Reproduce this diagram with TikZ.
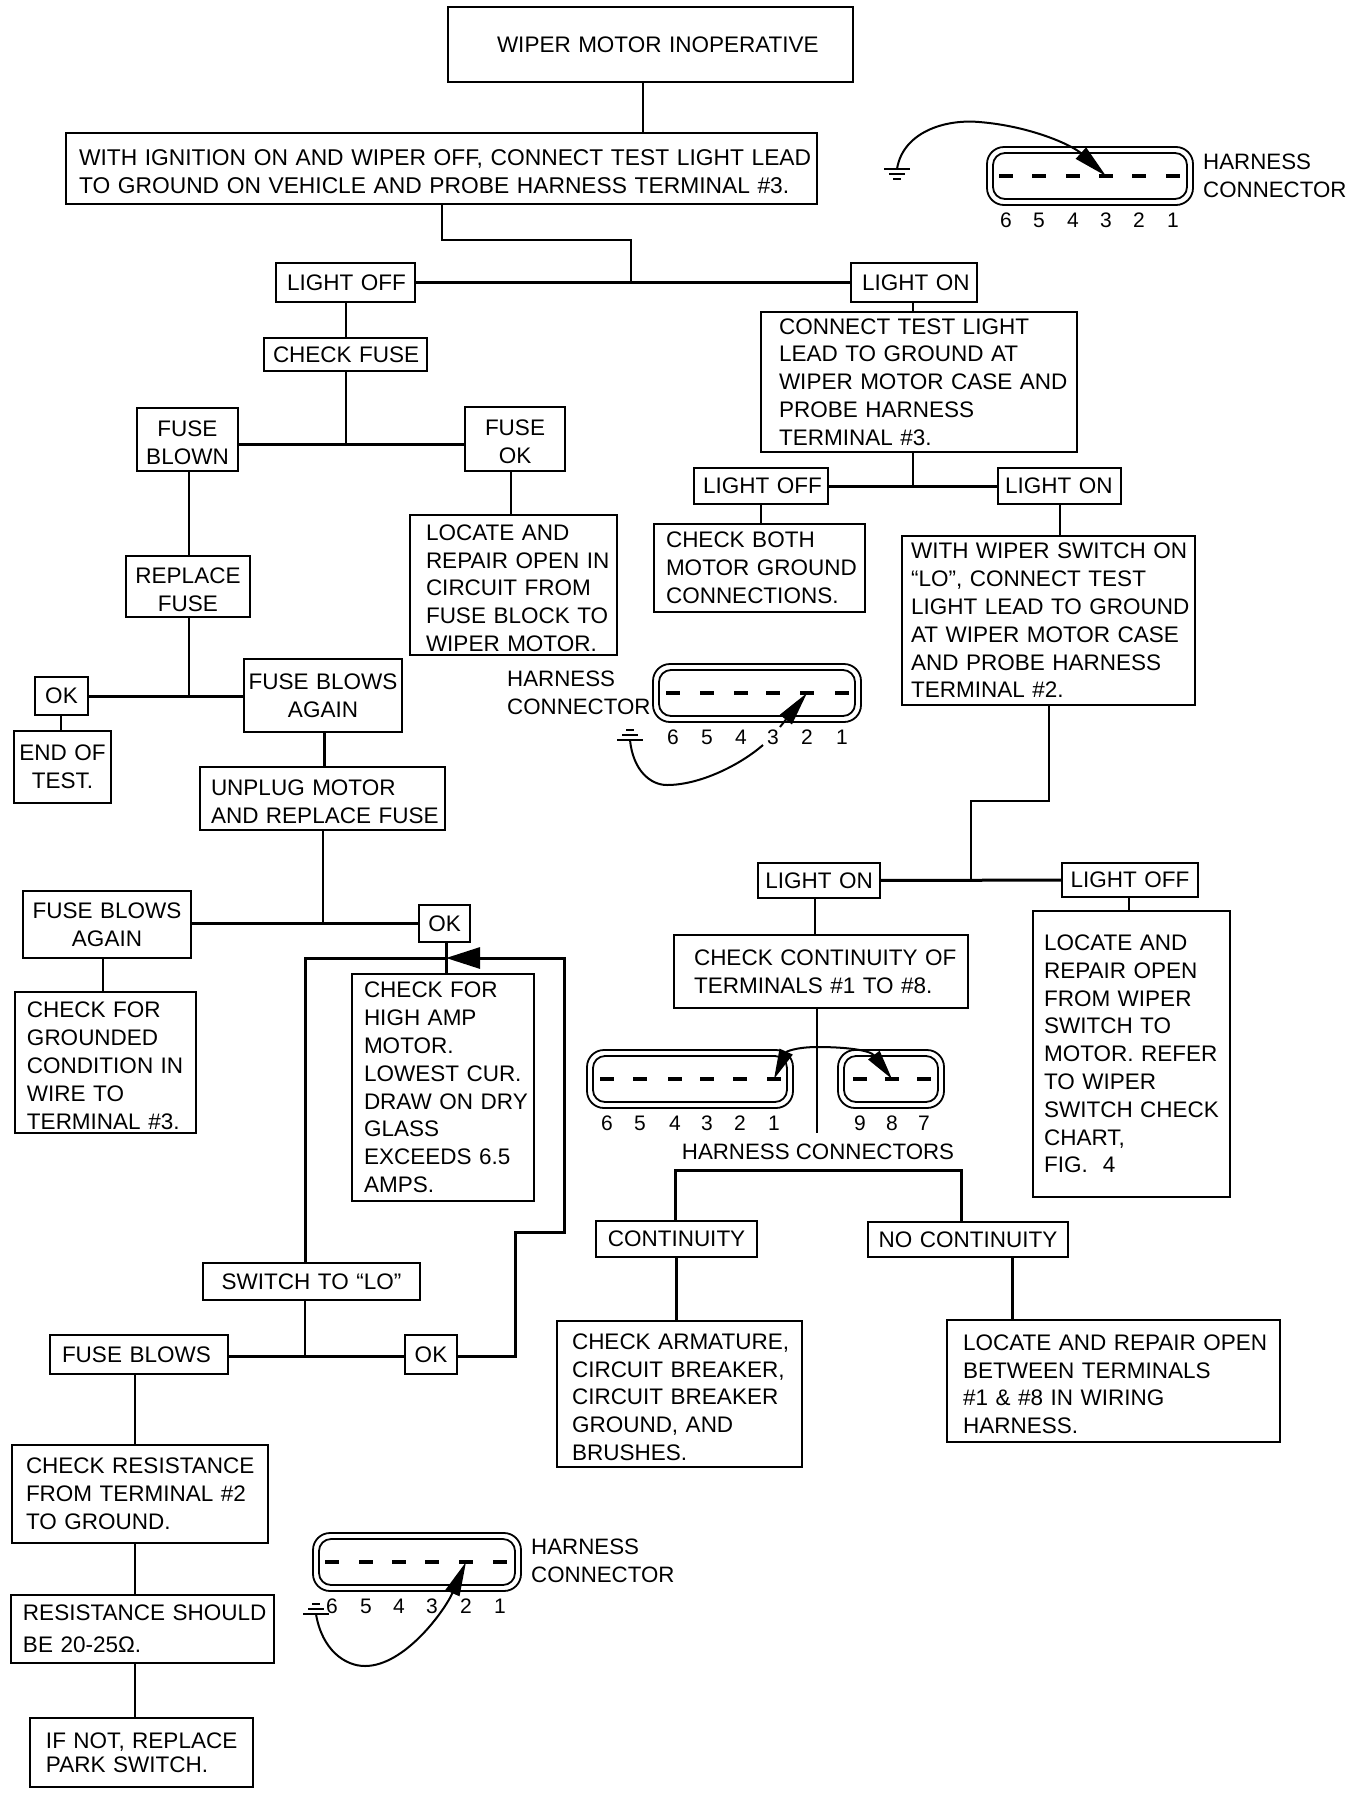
\documentclass[tikz,border=0pt]{standalone}
\usepackage{fontspec}
\setmainfont{Liberation Sans}
\usetikzlibrary{arrows.meta}
\tikzset{
    flow/.style n args={3}{draw, line width=2.2pt, inner sep=0pt, text width=#1pt, minimum height=#2pt,
        align=left, font=\fontsize{22.5}{27.8}\selectfont, execute at begin node={\leftskip=#3pt\relax}},
    flowc/.style 2 args={draw, line width=2.2pt, inner sep=0pt, text width=#1pt, minimum height=#2pt,
        align=center, font=\fontsize{22.5}{27.8}\selectfont},
    link/.style={line width=2pt},
    heavy/.style={line width=3pt},
    wire/.style={line width=2pt},
    lab/.style={align=left, inner sep=0pt, font=\fontsize{22.3}{27.5}\selectfont},
    pinbar/.style={line width=3.2pt},
    pintext/.style={inner sep=0pt, font=\fontsize{21}{21}\selectfont},
    pics/harness/.style 2 args={code={
        \draw[line width=1.8pt, rounded corners=17pt] (-#1,-29) rectangle (#1,29);
        \draw[line width=1.8pt, rounded corners=12pt] ({-#1+6},-23) rectangle ({#1-6},23);
        \foreach \dx/\num in {#2} {
            \coordinate (-\num) at (\dx,0);
            \draw[pinbar] ({\dx-7},0) -- ({\dx+7},0);
            \node[pintext] (-t\num) at (\dx,44) {\num};
        }
    }},
    pics/earth/.style={code={
        \coordinate (-o) at (0,0);
        \draw[line width=2.6pt] (-13,0) -- (13,0);
        \draw[line width=2.6pt] (-8,5) -- (8,5);
        \draw[line width=2.6pt] (-4,10) -- (4,10);
    }},
}
\newcommand{\drop}{\rule{0pt}{22pt}}
\begin{document}
\begin{tikzpicture}[x=1pt, y=-1pt]
    \useasboundingbox (0,0) rectangle (1360,1794);

    \node[flow={405}{75}{49}] (top) at (650.5,44.5) {WIPER MOTOR INOPERATIVE};
    \node[flow={751}{71}{13}, font=\fontsize{22.8}{27.8}\selectfont] (probe) at (441.5,168.5) {\drop WITH IGNITION ON AND WIPER OFF, CONNECT TEST LIGHT LEAD\\TO GROUND ON VEHICLE AND PROBE HARNESS TERMINAL \#3.};
    \node[flow={139}{39}{11}] (loffa) at (345.5,282.5) {LIGHT OFF};
    \node[flow={126}{39}{11}] (lona) at (914,282.5) {LIGHT ON};
    \node[flow={316}{140}{18}] (motorcase) at (919,382) {CONNECT TEST LIGHT\\LEAD TO GROUND AT\\WIPER MOTOR CASE AND\\PROBE HARNESS\\TERMINAL \#3.};
    \node[flow={163}{33}{9}] (cfuse) at (345.5,354.5) {CHECK FUSE};
    \node[flowc={101}{63}] (fblown) at (187.5,439.5) {\drop FUSE\\BLOWN};
    \node[flowc={100}{64}] (fok) at (515,439) {\drop FUSE\\OK};
    \node[flow={134}{36}{9}] (loffb) at (761,486) {LIGHT OFF};
    \node[flow={123}{36}{7}] (lonb) at (1059.5,486) {LIGHT ON};
    \node[flow={207}{140}{16}] (fuseblock) at (513.5,585) {\drop LOCATE AND\\REPAIR OPEN IN\\CIRCUIT FROM\\FUSE BLOCK TO\\WIPER MOTOR.};
    \node[flow={211}{88}{12}] (both) at (759.5,568) {CHECK BOTH\\MOTOR GROUND\\CONNECTIONS.};
    \node[flow={293}{169}{9}] (wiper) at (1048.5,620.5) {WITH WIPER SWITCH ON\\“LO”, CONNECT TEST\\LIGHT LEAD TO GROUND\\AT WIPER MOTOR CASE\\AND PROBE HARNESS\\TERMINAL \#2.};
    \node[flowc={124}{61}] (replace) at (188,586.5) {\drop REPLACE\\FUSE};
    \node[flowc={158}{73}] (againa) at (323,695.5) {FUSE BLOWS\\AGAIN};
    \node[flowc={53}{38}] (oka) at (61.5,696) {OK};
    \node[flowc={97}{72}] (endtest) at (62.5,767) {END OF\\TEST.};
    \node[flow={245}{63}{11}] (unplug) at (322.5,798.5) {\drop UNPLUG MOTOR\\AND REPLACE FUSE};
    \node[flowc={168}{67}] (againb) at (107,924.5) {FUSE BLOWS\\AGAIN};
    \node[flowc={51}{37}] (okb) at (444.5,923.5) {OK};
    \node[flow={181}{141}{12}] (grounded) at (105.5,1062.5) {\drop CHECK FOR\\GROUNDED\\CONDITION IN\\WIRE TO\\TERMINAL \#3.};
    \node[flow={182}{227}{12}] (highamp) at (443,1087.5) {CHECK FOR\\HIGH AMP\\MOTOR.\\LOWEST CUR.\\DRAW ON DRY\\GLASS\\EXCEEDS 6.5\\AMPS.};
    \node[flowc={217}{37}] (tolo) at (311.5,1281.5) {SWITCH TO “LO”};
    \node[flowc={52}{39}] (okc) at (431,1354.5) {OK};
    \node[flow={178}{39}{12}] (fblows) at (139,1354.5) {FUSE BLOWS};
    \node[flow={256}{98}{14}] (cres) at (140,1494) {CHECK RESISTANCE\\FROM TERMINAL \#2\\TO GROUND.};
    \node[flow={263}{68}{12}] (rshould) at (142.5,1629) {RESISTANCE SHOULD\\[4pt]BE 20-25Ω.};
    \node[flow={223}{69}{16}] (ifnot) at (141.5,1752.5) {IF NOT, REPLACE\\[-4pt]PARK SWITCH.};
    \node[flowc={122}{35}] (lonc) at (819,880.5) {LIGHT ON};
    \node[flowc={136}{34}] (loffc) at (1130,880) {LIGHT OFF};
    \node[flow={294}{73}{20}] (ccont) at (821,971.5) {CHECK CONTINUITY OF\\TERMINALS \#1 TO \#8.};
    \node[flow={197}{286}{11}] (chart) at (1131.5,1054) {LOCATE AND\\REPAIR OPEN\\FROM WIPER\\SWITCH TO\\MOTOR. REFER\\TO WIPER\\SWITCH CHECK\\CHART,\\FIG.\ \ 4};
    \node[flowc={161}{36}] (cont) at (676.5,1239) {CONTINUITY};
    \node[flowc={200}{35}] (nocont) at (968,1239.5) {NO CONTINUITY};
    \node[flow={245}{146}{15}] (armature) at (679.5,1394) {\drop CHECK ARMATURE,\\CIRCUIT BREAKER,\\CIRCUIT BREAKER\\GROUND, AND\\BRUSHES.};
    \node[flow={333}{122}{16}] (wiring) at (1113.5,1381) {\drop LOCATE AND REPAIR OPEN\\BETWEEN TERMINALS\\\#1 \& \#8 IN WIRING\\HARNESS.};

    \coordinate (ja) at (631,282);
    \coordinate (jaup) at (442,240);
    \coordinate (jb) at (346,444);
    \coordinate (jc) at (913,486);
    \coordinate (jd) at (189,696);
    \coordinate (je) at (323,923);
    \coordinate (jf) at (305,1356.5);
    \coordinate (jg) at (971,880);
    \coordinate (jgup) at (1049,801);
    \coordinate (jloop) at (446,958);
    \coordinate (loopl) at (305,958);
    \coordinate (loopa) at (515,1232);
    \coordinate (loopb) at (564,1232);
    \coordinate (loopc) at (564,958);
    \coordinate (hcend) at (817,1133);
    \coordinate (brl) at (675,1170);
    \coordinate (brr) at (961,1170);

    \draw[link] (top.south -| 643,0) -- (probe.north -| 643,0);
    \draw[link] (probe.south -| jaup) -- (jaup) -| (ja);
    \draw[heavy] (loffa) -- (lona);
    \draw[link] (loffa.south -| 346,0) -- (cfuse.north -| 346,0);
    \draw[link] (lona.south -| 913,0) -- (motorcase.north -| 913,0);
    \draw[link] (cfuse.south -| jb) -- (jb);
    \draw[heavy] (fblown.east |- jb) -- (fok.west |- jb);
    \draw[link] (motorcase.south -| jc) -- (jc);
    \draw[heavy] (loffb) -- (lonb);
    \draw[link] (fblown.south -| jd) -- (replace.north -| jd);
    \draw[link] (replace.south -| jd) -- (jd);
    \draw[heavy] (oka.east |- jd) -- (againa.west |- jd);
    \draw[link] (fok.south -| 511,0) -- (fuseblock.north -| 511,0);
    \draw[link] (loffb.south -| 761,0) -- (both.north -| 761,0);
    \draw[link] (lonb.south -| 1060,0) -- (wiper.north -| 1060,0);
    \draw[link] (oka.south -| 61,0) -- (endtest.north -| 61,0);
    \draw[heavy] (againa.south -| 324,0) -- (unplug.north -| 324,0);
    \draw[link] (unplug.south -| je) -- (je);
    \draw[heavy] (againb.east |- je) -- (okb.west |- je);
    \draw[link] (againb.south -| 103,0) -- (grounded.north -| 103,0);
    \draw[heavy] (okb.south -| jloop) -- (highamp.north -| jloop);
    \draw[heavy] (tolo.north -| loopl) -- (loopl) -- (jloop);
    \draw[heavy, -{Triangle[length=34pt, width=21pt]}] (okc.east |- jf) -- (loopa |- jf) -- (loopa) -- (loopb) -- (loopc) -- (jloop);
    \draw[link] (tolo.south -| jf) -- (jf);
    \draw[heavy] (fblows.east |- jf) -- (okc.west |- jf);
    \draw[link] (fblows.south -| 135,0) -- (cres.north -| 135,0);
    \draw[link] (cres.south -| 135,0) -- (rshould.north -| 135,0);
    \draw[link] (rshould.south -| 135,0) -- (ifnot.north -| 135,0);
    \draw[link] (wiper.south -| jgup) -- (jgup) -| (jg);
    \draw[heavy] (lonc) -- (loffc);
    \draw[link] (lonc.south -| 815,0) -- (ccont.north -| 815,0);
    \draw[link] (loffc.south -| 1129,0) -- (chart.north -| 1129,0);
    \draw[link] (ccont.south -| hcend) -- (hcend);
    \draw[heavy] (cont.north -| brl) -- (brl) -- (brr) -- (nocont.north -| brr);
    \draw[heavy] (cont.south -| 676,0) -- (armature.north -| 676,0);
    \draw[heavy] (nocont.south -| 1012,0) -- (wiring.north -| 1012,0);

    \pic (hza) at (1090,176) {harness={103}{-84/6,-51/5,-17/4,16/3,49/2,83/1}};
    \pic (hzb) at (757,693) {harness={104}{-84/6,-50/5,-16/4,16/3,50/2,85/1}};
    \pic (hzc) at (690,1079) {harness={103}{-83/6,-50/5,-15/4,17/3,50/2,84/1}};
    \pic (hzd) at (891,1079) {harness={53}{-31/9,1/8,33/7}};
    \pic (hze) at (417,1562) {harness={104}{-85/6,-51/5,-18/4,15/3,49/2,83/1}};

    \pic (gndup) at (897,169) {earth};
    \pic[yscale=-1] (gnda) at (630,740) {earth};
    \pic[yscale=-1] (gndb) at (316,1614) {earth};

    \coordinate (bwire) at (763,745);
    \coordinate (bstub) at (780,727);
    \draw[wire, -{Triangle[length=34pt, width=15pt]}] (gndup-o) .. controls (903,132) and (945,119) .. (979,122) .. controls (1030,126) and (1072,145) .. (hza-3);
    \draw[wire] (gnda-o) .. controls (633,770) and (650,785) .. (667,785) .. controls (700,785) and (740,765) .. (bwire);
    \draw[wire, -{Triangle[length=34pt, width=15pt]}] (bstub) -- (hzb-2);
    \draw[wire, {Triangle[length=30pt, width=14pt]}-{Triangle[length=30pt, width=14pt]}] (hzc-1) .. controls (786,1052) and (795,1047) .. (818,1047) .. controls (845,1047) and (870,1050) .. (hzd-8);
    \draw[wire, -{Triangle[length=34pt, width=15pt]}] (gndb-o) .. controls (322,1650) and (345,1666) .. (365,1666) .. controls (405,1666) and (445,1610) .. (hze-2);

    \node[lab, anchor=west] (harnessa) at (1203,176) {HARNESS\\CONNECTOR};
    \node[lab, anchor=west] (harnessb) at (507,693) {HARNESS\\CONNECTOR};
    \node[lab, anchor=west] (harnessc) at (531,1561) {HARNESS\\CONNECTOR};
    \node[lab] (harnessd) at (818,1152) {HARNESS CONNECTORS};
\end{tikzpicture}
\end{document}
